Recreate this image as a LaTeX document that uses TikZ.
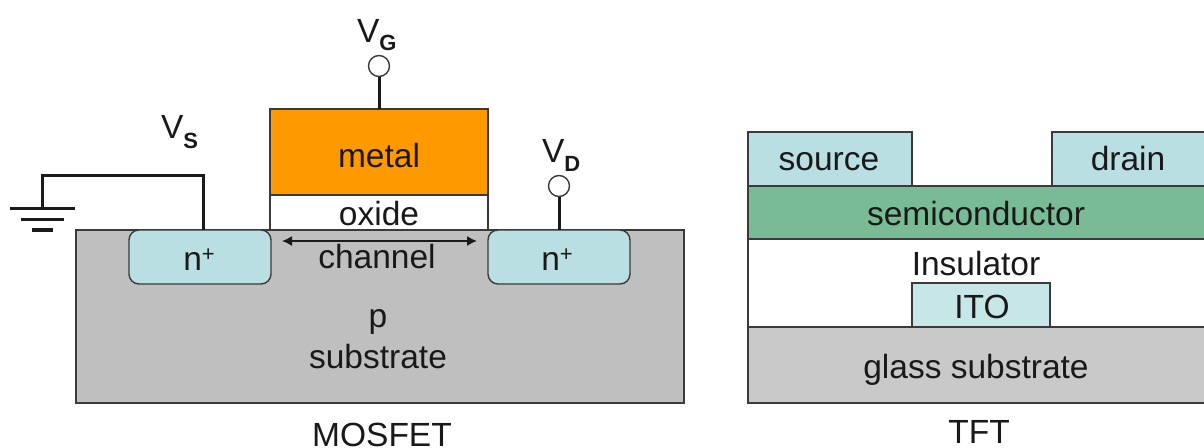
\documentclass[tikz,border=0pt]{standalone}
\usepackage{fontspec}
\setmainfont{Liberation Sans}
\usetikzlibrary{arrows.meta}
\definecolor{edge}{HTML}{3A3A3A}
\definecolor{orangem}{HTML}{FF9900}
\definecolor{nblue}{HTML}{B9DFE2}
\definecolor{itoblue}{HTML}{C6E6E8}
\definecolor{semig}{HTML}{79BB95}
\definecolor{subg}{HTML}{BFBFBF}
\definecolor{glassg}{HTML}{C9C9C9}
\definecolor{wire}{HTML}{1A1A1A}
\tikzset{
  x=1pt,y=-1pt,
  layer/.style={draw=edge,line width=1.6pt,inner sep=0pt,outer sep=0pt,anchor=north west},
  nwell/.style={layer,rounded corners=10pt,line width=1.4pt,fill=nblue,minimum width=142pt,minimum height=54pt},
  txt/.style={inner sep=0pt,outer sep=0pt,anchor=base,font=\fontsize{33.5}{36}\selectfont,text=black!90},
  sublbl/.style={inner sep=0pt,outer sep=0pt,anchor=base west,font=\fontsize{22}{24}\selectfont\bfseries,text=black!90},
  wireline/.style={draw=wire,line width=3pt},
  term/.style={circle,draw=edge,line width=1.4pt,fill=white,minimum size=21pt,inner sep=0pt,outer sep=0pt},
  gndbar/.style={wire,draw=wire}
}
\begin{document}
\begin{tikzpicture}
\useasboundingbox (0,0) rectangle (1204,447);
\clip (0,0) rectangle (1204,447);
% MOSFET layers
\node[layer,fill=subg,minimum width=608pt,minimum height=173pt] (sub) at (76,230) {};
\node[layer,fill=orangem,minimum width=218pt,minimum height=86pt] (metal) at (270,109) {};
\node[layer,fill=white,minimum width=218pt,minimum height=35pt] (oxide) at (270,195) {};
\node[nwell] (nl) at (129,230) {};
\node[nwell] (nr) at (488,230) {};
% Terminals
\node[term] (tg) at (379,66) {};
\node[term] (td) at (559,186) {};
\draw[wireline] (tg.south) -- (tg.south |- metal.north);
\draw[wireline] (td.south) -- (td.south |- nr.north);
% Ground
\coordinate (g0) at (42,208);
\coordinate (g1) at (10,208);
\coordinate (g2) at (75,208);
\coordinate (g3) at (21,219);
\coordinate (g4) at (64,219);
\coordinate (g5) at (32,230);
\coordinate (g6) at (53,230);
\coordinate (sc) at (203,175);
\coordinate (sb) at (203,230);
\draw[wireline,line join=miter] (sb) -- (sc) -- (sc -| g0) -- (g0);
\draw[wireline] (g1) -- (g2);
\draw[wireline] (g3) -- (g4);
\draw[wireline,line width=3.4pt] (g5) -- (g6);
% Channel arrow
\coordinate (cl) at (282,241);
\coordinate (cr) at (477,241);
\draw[draw=wire,line width=1.5pt,{Latex[length=10pt,width=10pt]}-{Latex[length=10pt,width=10pt]}] (cl) -- (cr);
% MOSFET text
\node[txt] (tmetal) at (379,167) {metal};
\node[txt] (toxide) at (379,225) {oxide};
\node[txt] (tchan) at (377,268) {channel};
\node[txt] (tnl) at (199,270) {n\raisebox{9pt}{\fontsize{22}{24}\selectfont +}};
\node[txt] (tnr) at (557,270) {n\raisebox{9pt}{\fontsize{22}{24}\selectfont +}};
\node[txt] (tp) at (378,327) {p};
\node[txt] (tsub) at (378,368) {substrate};
\node[txt] (tmos) at (382,446) {MOSFET};
\node[txt,anchor=base west] (vg) at (357,42) {V};
\node[sublbl] (vgs) at (vg.base east) [yshift=-8pt] {G};
\node[txt,anchor=base west] (vs) at (161,138) {V};
\node[sublbl] (vss) at (vs.base east) [yshift=-10pt] {S};
\node[txt,anchor=base west] (vd) at (542,162) {V};
\node[sublbl] (vds) at (vd.base east) [yshift=-9pt] {D};
% TFT layers
\node[layer,fill=white,minimum width=460pt,minimum height=88pt] (ins) at (748,239) {};
\node[layer,fill=nblue,minimum width=164pt,minimum height=54pt] (src) at (748,132) {};
\node[layer,fill=nblue,minimum width=156pt,minimum height=54pt] (drn) at (1052,132) {};
\node[layer,fill=semig,minimum width=460pt,minimum height=53pt] (semi) at (748,186) {};
\node[layer,fill=itoblue,minimum width=138pt,minimum height=44pt] (ito) at (912,283) {};
\node[layer,fill=glassg,minimum width=460pt,minimum height=76pt] (glass) at (748,327) {};
% TFT text
\node[txt] (tsrc) at (829,170) {source};
\node[txt] (tdrn) at (1128,170) {drain};
\node[txt] (tsemi) at (976,225) {semiconductor};
\node[txt] (tins) at (976,275) {Insulator};
\node[txt] (tito) at (982,318) {ITO};
\node[txt] (tglass) at (976,378) {glass substrate};
\node[txt] (ttft) at (979,443) {TFT};
\end{tikzpicture}
\end{document}
